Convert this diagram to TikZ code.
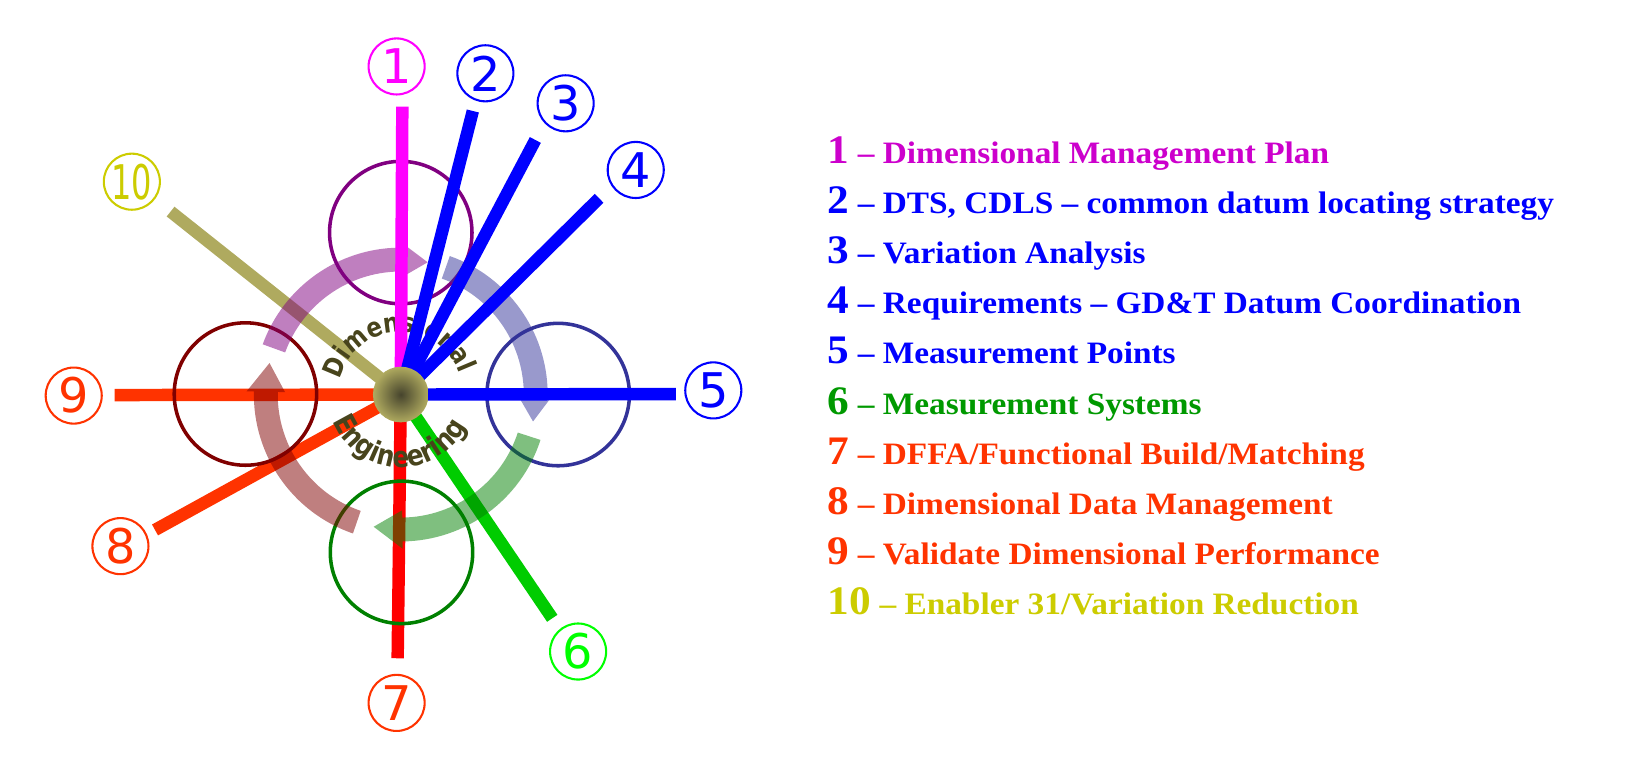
\documentclass[tikz,border=0pt]{standalone}
\usepackage{graphicx}
\usepackage{fontspec}
\setmainfont{Liberation Serif}[FakeStretch=1.07]
\newfontfamily\circlefont{DejaVu Sans}
\newfontfamily\wordfont{DejaVu Sans}[FakeStretch=0.85]
\usetikzlibrary{decorations.text}

\definecolor{cMagenta}{RGB}{255,0,255}
\definecolor{cPlan}{RGB}{204,0,204}
\definecolor{cBlue}{RGB}{0,0,255}
\definecolor{cGreen}{RGB}{0,204,0}
\definecolor{cLime}{RGB}{0,255,0}
\definecolor{cSys}{RGB}{0,153,0}
\definecolor{cRed}{RGB}{255,0,0}
\definecolor{cOrange}{RGB}{255,51,0}
\definecolor{cOlive}{RGB}{175,170,95}
\definecolor{cYellow}{RGB}{204,204,0}
\definecolor{cPurple}{RGB}{128,0,128}
\definecolor{cNavy}{RGB}{51,51,153}
\definecolor{cDkGreen}{RGB}{0,128,0}
\definecolor{cMaroon}{RGB}{128,0,0}
\definecolor{cHubIn}{RGB}{70,68,45}
\definecolor{cWord}{RGB}{72,68,28}

\newcommand\dimwordfont{\wordfont\bfseries\fontsize{13}{13}\selectfont}
\newcommand\engwordfont{\wordfont\bfseries\fontsize{14}{14}\selectfont}

\tikzset{
  spoke/.style={line width=6pt},
  ring/.style={line width=1.7pt},
  cycle arrow/.style={fill opacity=0.5},
  circled/.style={circle, draw, line width=1pt, minimum size=27pt, inner sep=0pt,
    font=\circlefont\fontsize{23}{23}\selectfont},
  legend/.style={font=\bfseries\fontsize{15}{15}\selectfont, anchor=base west, inner sep=0pt},
  hubdisc/.style={circle, minimum size=26.8pt, inner sep=0pt, shading=radial,
    inner color=cHubIn, outer color=cOlive}
}

\begin{document}
\begin{tikzpicture}[x=0.5pt,y=0.5pt]
  \useasboundingbox (0,0) rectangle (1568,-744);
  \coordinate (hub) at (386,-380);

  % lower spokes
  \foreach \i/\x/\y/\c in {6/531.9/595.5/cGreen, 7/383/634/cRed, 8/149.3/510.4/cOrange,
                           9/110.5/380.5/cOrange, 10/164.3/203.8/cOlive}{
    \coordinate (e\i) at (\x,-\y);
    \draw [spoke, \c] (hub) -- (e\i);
  }

  % rings
  \foreach \x/\y/\c in {386/224/cPurple, 537.6/380/cNavy, 386.7/532/cDkGreen, 236.4/379.5/cMaroon}{
    \draw [ring, \c] (\x,-\y) circle [radius=68.6];
  }

  % cycle arrows
  \begin{scope}[shift={(hub)}]
    \foreach \s/\t/\c in {160/78.5/cPurple, 70.5/-11.5/cNavy, -18/-101.6/cDkGreen, -109/-193.5/cMaroon}{
      \pgfmathsetmacro\b{\t+12.3}
      \fill [cycle arrow, \c] (\s:141.5) arc [start angle=\s, end angle=\b, radius=141.5]
        -- (\b:148.5) -- (\t:130) -- (\b:111.5) -- (\b:118.5)
        arc [start angle=\b, end angle=\s, radius=118.5] -- cycle;
    }
    \path [decorate, decoration={text along path, text align=center, text color=cWord,
      text={|\dimwordfont|Dimensional}}] (172.6:60) arc [start angle=172.6, end angle=12.6, radius=60];
    \path [decorate, decoration={text along path, text align=center, text color=cWord,
      text={|\engwordfont|Engineering}}] (-172:70) arc [start angle=-172, end angle=-12, radius=70];
  \end{scope}

  % upper spokes
  \foreach \i/\x/\y/\c in {1/387.5/102.7/cMagenta, 2/455.4/106.9/cBlue, 3/515.6/134.8/cBlue,
                           4/577/191/cBlue, 5/651/379.5/cBlue}{
    \coordinate (e\i) at (\x,-\y);
    \draw [spoke, \c] (hub) -- (e\i);
  }

  \node [hubdisc] (core) at (hub) {};

  % circled numbers
  \foreach \i/\x/\y/\c in {1/382/64/cMagenta, 2/467.5/70.6/cBlue, 3/544.8/99.5/cBlue,
      4/612.3/163.7/cBlue, 5/687/376/cBlue, 6/556.8/627.5/cLime, 7/382/677/cOrange,
      8/116/526/cOrange, 9/71/381/cOrange}{
    \node [circled, \c] (n\i) at (\x,-\y) {\i};
  }
  \node [circled, cYellow] (n10) at (127,-175) {\scalebox{0.67}[1]{10}};

  % legend
  \foreach \i/\c/\t in {1/cPlan/{Dimensional Management Plan},
      2/cBlue/{DTS, CDLS – common datum locating strategy},
      3/cBlue/{Variation Analysis},
      4/cBlue/{Requirements – GD\&T Datum Coordination},
      5/cBlue/{Measurement Points},
      6/cSys/{Measurement Systems},
      7/cOrange/{DFFA/Functional Build/Matching},
      8/cOrange/{Dimensional Data Management},
      9/cOrange/{Validate Dimensional Performance},
      10/cYellow/{Enabler 31/Variation Reduction}}{
    \node [legend, text=\c] (leg\i) at (797,{-157.3-48.3*(\i-1)}) {{\fontsize{19.5}{19.5}\selectfont\i} – \t};
  }
\end{tikzpicture}
\end{document}
